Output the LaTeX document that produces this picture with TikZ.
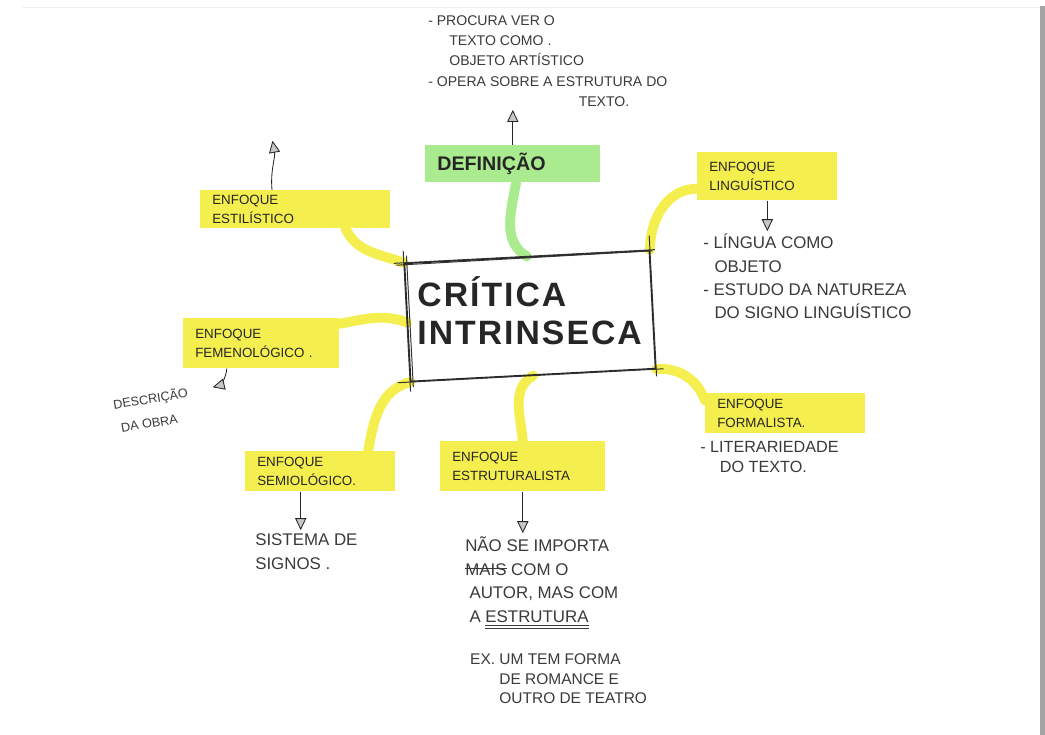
\documentclass[tikz,border=0pt]{standalone}
\usepackage{fontspec}
\setmainfont{Liberation Sans}
\usepackage{tikz}
\usetikzlibrary{arrows.meta,positioning,calc,backgrounds}
\definecolor{Marker}{HTML}{F4EF4E}
\definecolor{Leafy}{HTML}{A9EB8E}
\definecolor{Ink}{HTML}{262626}
\definecolor{Pencil}{HTML}{3A3A3A}
\definecolor{Edge}{HTML}{A4A4A4}
\newsavebox\markbox
\newcommand\struck[1]{\sbox\markbox{#1}\rlap{\rule[0.33em]{\wd\markbox}{0.7pt}}\usebox\markbox}
\newcommand\dunder[1]{\sbox\markbox{#1}\rlap{\rule[-2.5pt]{\wd\markbox}{0.7pt}}\rlap{\rule[-4.5pt]{\wd\markbox}{0.7pt}}\usebox\markbox}

\begin{document}
\begin{tikzpicture}[
  x=0.025cm, y=0.025cm,
  every node/.style={text=Ink},
  hl/.style={fill=#1,anchor=north west,align=left,inner xsep=0.3cm,inner ysep=1pt,font=\fontsize{9.5}{14}\selectfont},
  hl/.default=Marker,
  note/.style={anchor=north west,align=left,inner sep=0pt,text=Pencil},
  link/.style={draw=#1,line width=7pt,line cap=round},
  link/.default=Marker,
  pointer/.style={-{Triangle[length=3mm,width=2.8mm,fill=gray!45]},draw=black!85,line width=0.6pt,shorten >=2pt},
  sketch/.style={draw=black!80,line width=0.7pt}
]
\useasboundingbox (0,0) rectangle (1045,-735);

% highlighted topics
\node[hl=Leafy,text width=3.775cm,minimum height=0.925cm,font=\fontsize{14}{16}\selectfont\bfseries] (def) at (425,-145) {DEFINIÇÃO};
\node[hl,text width=4.15cm,minimum height=0.95cm] (estil) at (200,-190) {ENFOQUE\\ESTILÍSTICO};
\node[hl,text width=2.9cm,minimum height=1.2cm] (ling) at (697,-152) {ENFOQUE\\LINGUÍSTICO};
\node[hl,text width=3.3cm,minimum height=1.25cm] (fenom) at (183,-318) {ENFOQUE\\FEMENOLÓGICO~.};
\node[hl,text width=3.15cm,minimum height=1cm] (semio) at (245,-451) {ENFOQUE\\SEMIOLÓGICO.};
\node[hl,text width=3.525cm,minimum height=1.25cm] (estrut) at (440,-441) {ENFOQUE\\ESTRUTURALISTA};
\node[hl,text width=3.4cm,minimum height=1cm] (formal) at (705,-393) {ENFOQUE\\FORMALISTA.};

% centre
\node[draw=black!85,line width=1pt,rotate=3,minimum width=6.125cm,minimum height=2.95cm,text width=5.725cm,inner xsep=0.2cm,align=left,font=\fontsize{24}{27}\selectfont\bfseries\addfontfeature{LetterSpace=6}] (crit) at (530,-316) {\rotatebox{-3}{\begin{tabular}{@{}l@{}}CRÍTICA\\INTRINSECA\end{tabular}}};
\draw[sketch] ($(crit.north west)!-0.04!(crit.north east)$) -- ($(crit.north east)!-0.02!(crit.north west)$);
\draw[sketch] ($(crit.north west)!-0.03!(crit.north east)+(0,-2)$) -- ($(crit.north east)!-0.01!(crit.north west)+(0,-1)$);
\draw[sketch] ($(crit.south west)!-0.05!(crit.south east)$) -- ($(crit.south east)!-0.03!(crit.south west)$);
\draw[sketch] ($(crit.north west)!-0.1!(crit.south west)$) -- ($(crit.south west)!-0.08!(crit.north west)$);
\draw[sketch] ($(crit.north west)!-0.06!(crit.south west)+(3,0)$) -- ($(crit.south west)!-0.04!(crit.north west)+(3,0)$);
\draw[sketch] ($(crit.north east)!-0.12!(crit.south east)$) -- ($(crit.south east)!-0.06!(crit.north east)$);

% notes
\node[note,font=\fontsize{10}{14.5}\selectfont] (deftxt) at (428,-15) {- PROCURA VER O\\\hspace*{15pt}TEXTO COMO .\\\hspace*{15pt}OBJETO ARTÍSTICO\\- OPERA SOBRE A ESTRUTURA DO\\\hspace*{107pt}TEXTO.};
\node[note,font=\fontsize{12}{16.5}\selectfont] (lingtxt) at (703,-234) {- LÍNGUA COMO\\\hspace*{8pt}OBJETO\\- ESTUDO DA NATUREZA\\\hspace*{8pt}DO SIGNO LINGUÍSTICO};
\node[note,font=\fontsize{9}{17}\selectfont,rotate=9] (descr) at (112,-398) {DESCRIÇÃO\\\hspace*{3pt}DA OBRA};
\node[note,font=\fontsize{12}{17.5}\selectfont] (semiotxt) at (255,-533) {SISTEMA DE\\SIGNOS .};
\node[note,font=\fontsize{12}{17}\selectfont] (estrutxt) at (465,-536) {NÃO SE IMPORTA\\\struck{MAIS} COM O\\\hspace*{3pt}AUTOR, MAS COM\\\hspace*{3pt}A \dunder{ESTRUTURA}};
\node[note,font=\fontsize{11}{14}\selectfont,below=6mm of estrutxt.south west,anchor=north west,xshift=3.5pt] (extxt) {EX. UM TEM FORMA\\\hphantom{EX. }DE ROMANCE E\\\hphantom{EX. }OUTRO DE TEATRO};
\node[note,font=\fontsize{11.5}{14.5}\selectfont] (formtxt) at (700,-441) {- LITERARIEDADE\\\hspace*{14pt}DO TEXTO.};

% arrows
\coordinate (estilup) at (272,-138);
\coordinate (descrtip) at (210,-388);
\coordinate (semiofoot) at ($(semio.south west)!0.37!(semio.south east)$);
\draw[pointer] (def.north) -- (def.north |- deftxt.south);
\draw[pointer] (estilup |- estil.north) to[out=95,in=-80] (estilup);
\draw[pointer] (ling.south) -- (ling.south |- lingtxt.north);
\draw[pointer] ($(fenom.south west)!0.28!(fenom.south east)$) to[out=-95,in=15] (descrtip);
\draw[pointer] (semiofoot) -- (semiofoot |- semiotxt.north);
\draw[pointer] (estrut.south) -- (estrut.south |- estrutxt.north);

% marker branches
\begin{scope}[on background layer]
\fill[white] (0,0) rectangle (1045,-735);
\fill[Edge] (1040,-6) rectangle (1045,-735);
\draw[gray!12] (22,-7) -- (1040,-7);
\draw[link] (estil.-21) to[out=-65,in=160] (crit.north west);
\draw[link=Leafy] (def.-80) to[out=-100,in=150] (crit.north);
\draw[link] (ling.190) to[out=180,in=90] (crit.north east);
\draw[link] (fenom.14) to[out=10,in=160] (crit.west);
\draw[link] (crit.south west) to[out=195,in=80] (semio.23);
\draw[link] (crit.south) to[out=210,in=95] (estrut.north);
\draw[link] (crit.south east) to[out=5,in=110] (formal.171);
\end{scope}
\end{tikzpicture}
\end{document}
